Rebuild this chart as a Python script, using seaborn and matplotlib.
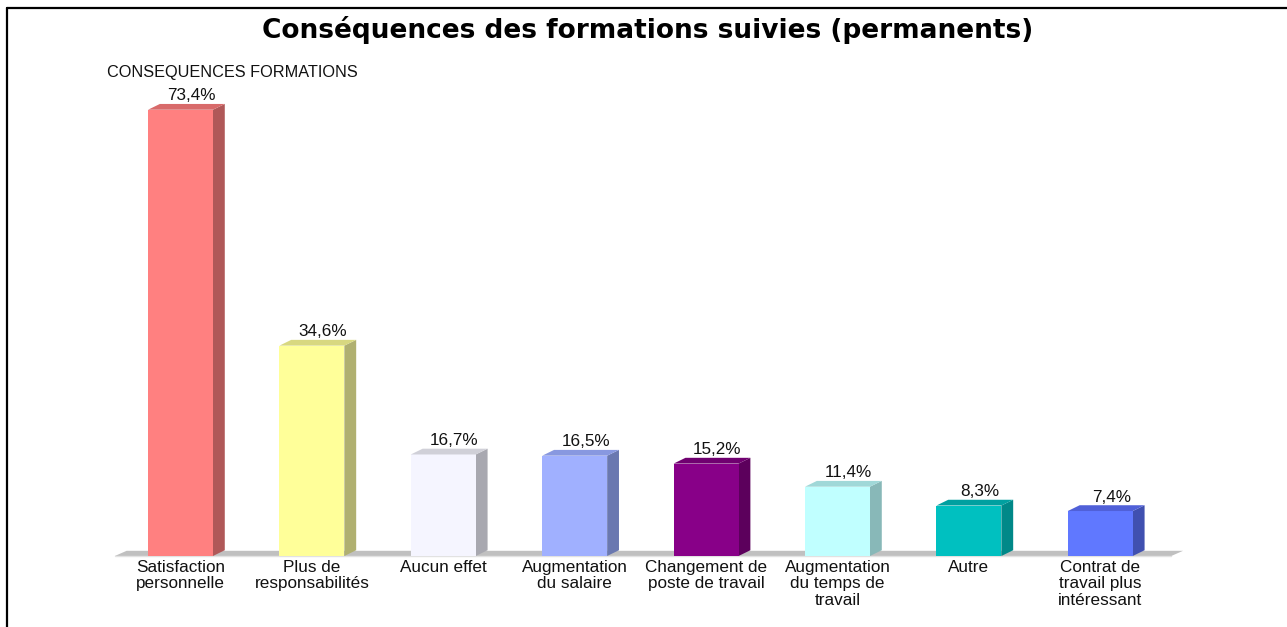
import matplotlib
matplotlib.use("Agg")
import matplotlib.pyplot as plt
from matplotlib.patches import Polygon
from matplotlib.lines import Line2D
import seaborn as sns
import pandas as pd

# data
categories = ["Satisfaction\npersonnelle", "Plus de\nresponsabilités", "Aucun effet",
              "Augmentation\ndu salaire", "Changement de\nposte de travail",
              "Augmentation\ndu temps de\ntravail", "Autre",
              "Contrat de\ntravail plus\nintéressant"]
values = [73.4, 34.6, 16.7, 16.5, 15.2, 11.4, 8.3, 7.4]

# face colours: front, side, top
front_colors = ["#FF8080", "#FFFF99", "#F5F5FF", "#A0B0FF", "#880088", "#C0FFFF", "#00C0C0", "#6078FF"]
side_colors = ["#B05858", "#B0B070", "#A8A8B0", "#6A78B0", "#5C005C", "#88B8B8", "#008888", "#4050B0"]
top_colors = ["#D86A6A", "#D8D880", "#D0D0D8", "#8898E0", "#700070", "#A0D8D8", "#00A0A0", "#5060D8"]

df = pd.DataFrame({"cat": categories, "val": values})

sns.set_theme(style="white")
plt.rcParams["font.family"] = ["Liberation Sans", "DejaVu Sans"]
plt.rcParams["text.color"] = "black"

W, H = 1287, 627
fig = plt.figure(figsize=(W / 100, H / 100), dpi=100)

# axes placed so that bar centres / baseline fall where they do in the reference
left_px, right_px = 80, 1220
base_px, top_px = 556, 60
x0_px, step_px = 180.5, 131.4
y_px = 6.08
ax = fig.add_axes([left_px / W, (H - base_px) / H, (right_px - left_px) / W, (base_px - top_px) / H])

sns.barplot(data=df, x="cat", y="val", hue="cat", palette=front_colors, legend=False,
            width=0.494, saturation=1, ax=ax, zorder=3, linewidth=0)

ax.set_xlim((left_px - x0_px) / step_px, (right_px - x0_px) / step_px)
ax.set_ylim(0, (base_px - top_px) / y_px)

dx, dy = 0.09, 0.95

# floor
fl = Polygon([(-0.5, 0), (7.54, 0), (7.54 + dx, dy * 0.9), (-0.5 + dx, dy * 0.9)],
             closed=True, facecolor="#C0C0C0", edgecolor="none", zorder=1, clip_on=False)
ax.add_patch(fl)
ax.plot([-0.5, 7.54], [0, 0], color="#E2E2E2", lw=1, zorder=2, clip_on=False)

for i, p in enumerate(ax.patches[:len(values)]):
    x, w, h = p.get_x(), p.get_width(), p.get_height()
    side = Polygon([(x + w, 0), (x + w + dx, dy), (x + w + dx, h + dy), (x + w, h)],
                   closed=True, facecolor=side_colors[i], edgecolor="none", zorder=2.5)
    top = Polygon([(x, h), (x + dx, h + dy), (x + w + dx, h + dy), (x + w, h)],
                  closed=True, facecolor=top_colors[i], edgecolor="none", zorder=3.5)
    ax.add_patch(side)
    ax.add_patch(top)
    ax.text(x + w / 2 + dx / 2 + 0.04, h + dy + 0.1, f"{values[i]:.1f}%".replace(".", ","),
            ha="center", va="bottom", fontsize=12.3, color="#111111")

ax.set_xlabel("")
ax.set_ylabel("")
ax.set_yticks([])
ax.tick_params(axis="x", length=0, pad=3, labelsize=12.3, labelcolor="#111111")
for lab in ax.get_xticklabels():
    lab.set_linespacing(1.1)
for s in ax.spines.values():
    s.set_visible(False)
ax.patch.set_alpha(0)

fig.text(647.5 / W, 1 - 30 / H, "Conséquences des formations suivies (permanents)",
         ha="center", va="center", fontsize=19, fontweight="bold", family="DejaVu Sans",
         color="black")
fig.text(107 / W, 1 - 72 / H, "CONSEQUENCES FORMATIONS", ha="left", va="center",
         fontsize=11.7, color="#111111")

# frame lines at top and left
fig.add_artist(Line2D([7 / W, 1], [1 - 8 / H, 1 - 8 / H], color="black", lw=1.6))
fig.add_artist(Line2D([7 / W, 7 / W], [0, 1 - 8 / H], color="black", lw=1.6))

fig.savefig("out.png", dpi=100)
